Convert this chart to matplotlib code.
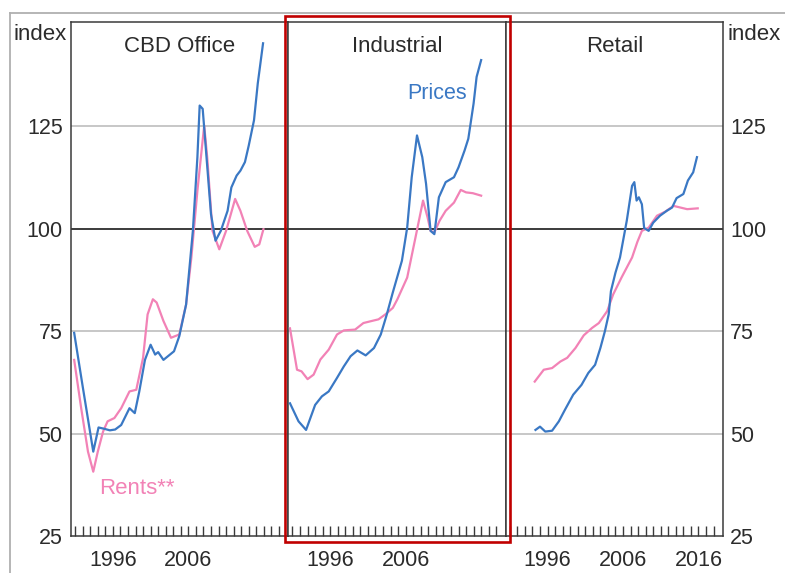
import matplotlib
matplotlib.use("Agg")
import matplotlib.pyplot as plt
from matplotlib.lines import Line2D
from matplotlib.patches import Rectangle

plt.rcParams['font.family'] = ['Liberation Sans', 'DejaVu Sans']

# ---------------- data ----------------
panel_titles = ["CBD Office", "Industrial", "Retail"]

cbd_price_x = [1990.87, 1992.0, 1993.4, 1994.1, 1994.8, 1995.6, 1996.3, 1997.1, 1998.2, 1998.9, 1999.5,
               2000.25, 2001.0, 2001.6, 2002.0, 2002.7, 2004.1, 2004.8, 2005.7, 2006.6, 2007.2,
               2007.5, 2007.9, 2008.3, 2009.0, 2009.6, 2010.3, 2011.2, 2011.7, 2012.4, 2012.9,
               2013.5, 2014.0, 2014.7, 2015.2, 2015.9]
cbd_price_y = [74.6, 61.5, 45.6, 51.5, 51.2, 50.8, 51.0, 52.1, 56.2, 55.0, 60.3,
               68.0, 71.7, 69.3, 69.9, 68.0, 70.1, 73.8, 81.5, 99.5, 117.5,
               130.1, 129.3, 120.0, 103.6, 97.1, 99.5, 104.4, 110.1, 113.0, 114.2,
               116.3, 120.3, 126.5, 135.5, 145.3]

cbd_rent_x = [1990.87, 1991.8, 1992.7, 1993.4, 1994.0, 1994.7, 1995.3, 1996.2, 1997.1, 1998.2, 1999.1,
              2000.0, 2000.6, 2001.3, 2001.8, 2002.7, 2003.7, 2004.8, 2005.7, 2006.4, 2007.2,
              2008.1, 2008.5, 2009.2, 2010.1, 2011.0, 2012.2, 2012.9, 2013.8, 2014.8, 2015.4, 2015.95]
cbd_rent_y = [68.0, 56.2, 45.6, 40.7, 45.6, 50.5, 53.0, 53.8, 56.2, 60.3, 60.7,
              68.5, 79.1, 82.8, 82.0, 77.5, 73.4, 74.2, 81.5, 93.0, 109.3,
              125.2, 117.5, 99.5, 95.0, 99.5, 107.3, 104.4, 99.5, 95.6, 96.2, 99.9]

ind_price_x = [1990.67, 1991.8, 1992.8, 1994.0, 1994.9, 1995.8, 1996.9, 1997.8, 1998.7, 1999.6,
               2000.7, 2001.8, 2002.7, 2003.5, 2004.3, 2005.5, 2006.2, 2006.8, 2007.5, 2008.2,
               2008.7, 2009.3, 2009.8, 2010.4, 2011.3, 2012.4, 2013.0, 2013.8, 2014.3, 2015.0,
               2015.4, 2016.0]
ind_price_y = [57.4, 53.0, 50.9, 57.0, 59.1, 60.3, 63.6, 66.4, 68.9, 70.3,
               69.1, 70.9, 74.2, 79.1, 84.5, 92.2, 100.3, 112.6, 122.8, 117.5,
               111.0, 99.5, 98.7, 107.7, 111.4, 112.6, 115.0, 119.1, 122.0, 130.6,
               137.1, 141.2]

ind_rent_x = [1990.67, 1991.6, 1992.2, 1993.0, 1993.8, 1994.7, 1995.8, 1996.9, 1997.8, 1999.3,
              2000.4, 2001.5, 2002.4, 2003.3, 2004.3, 2004.9, 2006.2, 2007.3, 2008.3, 2008.9,
              2009.3, 2009.8, 2010.5, 2011.3, 2012.4, 2013.3, 2014.0, 2014.9, 2016.0]
ind_rent_y = [75.7, 65.6, 65.2, 63.3, 64.4, 68.1, 70.5, 74.2, 75.2, 75.4,
              77.0, 77.5, 77.9, 79.1, 80.7, 82.8, 88.1, 97.9, 106.9, 102.8,
              99.5, 99.1, 102.0, 104.4, 106.4, 109.5, 108.9, 108.7, 108.1]

ret_price_x = [1994.4, 1995.0, 1995.7, 1996.6, 1997.5, 1998.3, 1999.4, 2000.5, 2001.4, 2002.3,
               2003.0, 2003.6, 2004.1, 2004.4, 2005.0, 2005.6, 2006.5, 2007.2, 2007.5, 2007.8,
               2008.1, 2008.5, 2008.8, 2009.4, 2010.0, 2010.9, 2011.8, 2012.5, 2013.1, 2014.0,
               2014.6, 2015.3, 2015.8]
ret_price_y = [50.9, 51.7, 50.5, 50.7, 53.0, 55.8, 59.5, 61.9, 64.8, 66.8,
               70.9, 75.0, 79.1, 84.8, 89.3, 93.0, 102.0, 110.5, 111.4, 106.9,
               107.7, 106.0, 100.2, 99.5, 101.5, 103.2, 104.4, 105.2, 107.5, 108.5,
               111.8, 113.8, 117.5]

ret_rent_x = [1994.3, 1995.5, 1996.6, 1997.7, 1998.6, 1999.7, 2000.8, 2001.9, 2002.8, 2003.9,
              2004.7, 2005.8, 2007.2, 2007.9, 2008.5, 2009.4, 2010.5, 2011.6, 2012.7, 2013.6,
              2014.5, 2015.9]
ret_rent_y = [62.7, 65.6, 66.0, 67.6, 68.5, 70.9, 74.0, 75.8, 77.0, 79.9,
              84.0, 88.1, 93.0, 96.8, 99.5, 100.3, 103.2, 104.2, 105.6, 105.2,
              104.8, 105.0]

ytick_values = [25, 50, 75, 100, 125]
grid_values = [50, 75, 125]
year_ticks = list(range(1991, 2019))
xtick_labels_panels = [["1996", "2006"], ["1996", "2006"], ["1996", "2006", "2016"]]

prices = [(cbd_price_x, cbd_price_y), (ind_price_x, ind_price_y), (ret_price_x, ret_price_y)]
rents = [(cbd_rent_x, cbd_rent_y), (ind_rent_x, ind_rent_y), (ret_rent_x, ret_rent_y)]

# ---------------- style ----------------
BLUE = "#3a78c4"
PINK = "#f282b6"
TXT = "#2b2b2b"
W, H = 785, 573
FS = 15.5

fig = plt.figure(figsize=(W / 100, H / 100), dpi=100)

left_px, right_px, top_px, bot_px = 71, 723, 22, 536
pw = (right_px - left_px) / 3.0
axes = []
for i in range(3):
    x0 = left_px + i * pw
    ax = fig.add_axes([x0 / W, (H - bot_px) / H, pw / W, (bot_px - top_px) / H])
    axes.append(ax)

for i, ax in enumerate(axes):
    ax.set_xlim(1990.45, 2019.25)
    ax.set_ylim(25, 150.5)
    for g in grid_values:
        ax.axhline(g, color="#bdbdbd", lw=1.2, zorder=1)
    ax.axhline(100, color="#1a1a1a", lw=1.2, zorder=1)
    ax.plot(rents[i][0], rents[i][1], color=PINK, lw=1.6, zorder=3)
    ax.plot(prices[i][0], prices[i][1], color=BLUE, lw=1.6, zorder=4)
    for s in ax.spines.values():
        s.set_color("#3a3a3a")
        s.set_linewidth(1.1)
    labels = [str(y) if str(y) in xtick_labels_panels[i] else "" for y in year_ticks]
    ax.set_xticks(year_ticks)
    ax.set_xticklabels(labels)
    ax.tick_params(axis="x", direction="in", length=7, width=1.0, color="#3a3a3a",
                   labelsize=FS, labelcolor=TXT, pad=10)
    ax.set_yticks(ytick_values)
    if i == 0:
        ax.tick_params(axis="y", length=0, labelsize=FS, labelcolor=TXT, pad=6,
                       left=True, labelleft=True, right=False, labelright=False)
    elif i == 2:
        ax.tick_params(axis="y", length=0, labelsize=FS, labelcolor=TXT, pad=5,
                       left=False, labelleft=False, right=True, labelright=True)
    else:
        ax.tick_params(axis="y", length=0, left=False, labelleft=False)
    ax.text(0.5, 1 - (47 - top_px) / (bot_px - top_px), panel_titles[i], transform=ax.transAxes,
            ha="center", va="center", fontsize=16, color=TXT)

# series labels
axes[0].text(1999.2, 36.5, "Rents**", color=PINK, fontsize=16, ha="center", va="center")
axes[1].text(2010.2, 133.0, "Prices", color=BLUE, fontsize=15.5, ha="center", va="center")

# index labels
fig.text(40 / W, 1 - 34 / H, "index", ha="center", va="center", fontsize=16, color=TXT)
fig.text(754 / W, 1 - 34 / H, "index", ha="center", va="center", fontsize=16, color=TXT)

# outer light frame (partially cropped)
fig.add_artist(Line2D([10 / W, 1.0], [1 - 13 / H, 1 - 13 / H], color="#b0b0b0", lw=1.3,
                      transform=fig.transFigure))
fig.add_artist(Line2D([10 / W, 10 / W], [0.0, 1 - 13 / H], color="#b0b0b0", lw=1.3,
                      transform=fig.transFigure))

# red highlight rectangle around the Industrial panel
fig.add_artist(Rectangle((285 / W, (H - 542) / H), 225 / W, 526 / H, fill=False,
                         edgecolor="#c00000", lw=1.9, transform=fig.transFigure, zorder=10))

fig.savefig("out.png", dpi=100)
